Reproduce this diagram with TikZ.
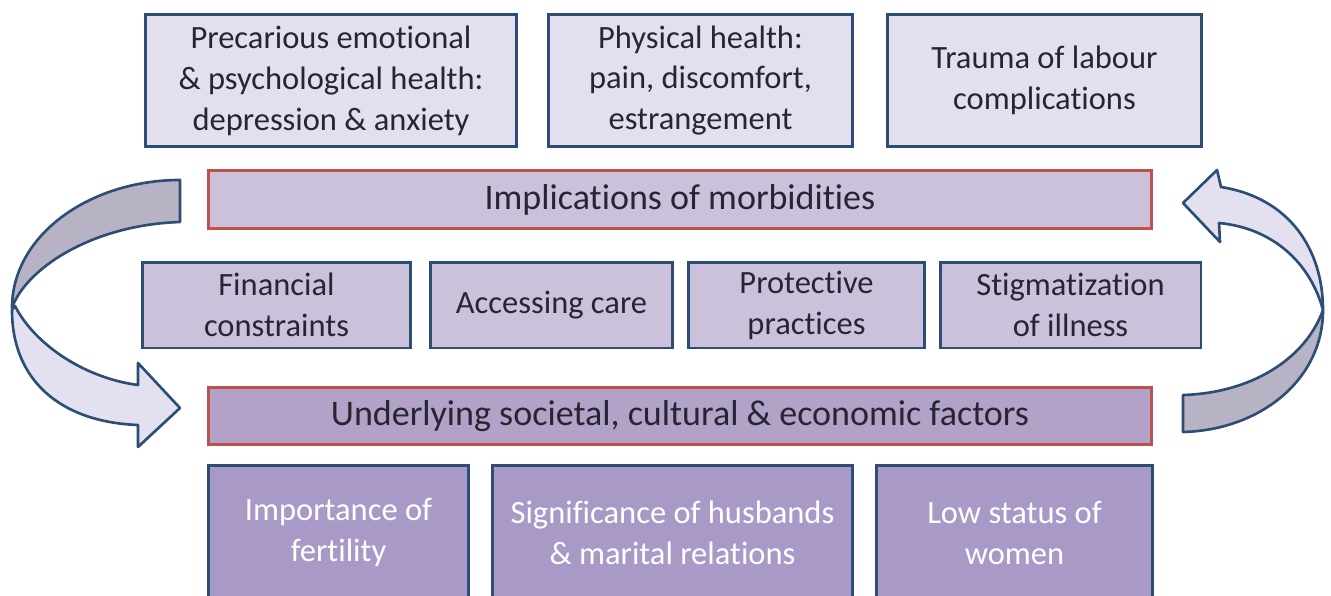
\documentclass[tikz,border=0pt]{standalone}
\usepackage{fontspec}
\setmainfont{Carlito}[Ligatures=NoCommon]
\definecolor{boxblue}{HTML}{2C4D75}
\definecolor{barred}{HTML}{C0504D}
\definecolor{lilac1}{HTML}{E4DFEE}
\definecolor{lilac2}{HTML}{CCC1DA}
\definecolor{lilac3}{HTML}{B3A2C7}
\definecolor{lilac4}{HTML}{A999C7}
\definecolor{ribbon}{HTML}{E3E0EF}
\definecolor{ribbonback}{HTML}{B8B3C4}
\definecolor{txt}{HTML}{262633}

\begin{document}
\begin{tikzpicture}[x=0.02cm,y=-0.02cm]
\path[use as bounding box] (0,0) rectangle (1331,595);
\clip (0,0) rectangle (1331,595);

\tikzstyle{every node}+=[inner sep=0pt,align=center,text=txt,font=\fontsize{18.5}{23.3}\selectfont]
\tikzstyle{box}=[draw=boxblue,line width=1.7pt,rectangle]
\tikzstyle{topbox}=[box,fill=lilac1,minimum height=2.66cm]
\tikzstyle{midbox}=[box,fill=lilac2,minimum height=1.72cm]
\tikzstyle{lowbox}=[box,fill=lilac4,minimum height=2.7cm,text=white]
\tikzstyle{barbox}=[draw=barred,line width=1.7pt,minimum width=18.88cm,minimum height=1.15cm,font=\fontsize{20.5}{24}\selectfont]
\tikzstyle{ribbonline}=[draw=boxblue,line width=1.5pt,line join=round]

% morbidities
\node[topbox,minimum width=7.44cm] (emo) at (331,80.5) {Precarious emotional\\ \& psychological health:\\ depression \& anxiety};
\node[topbox,minimum width=6.1cm] (phys) at (700.5,80.5) {Physical health:\\ pain, discomfort,\\ estrangement};
\node[topbox,minimum width=6.3cm] (trauma) at (1044.5,80.5) {Trauma of labour\\ complications};
\node[barbox,fill=lilac2] (impl) at (680,199.5) {Implications of morbidities};

% middle row
\node[midbox,minimum width=5.38cm] (fin) at (276.5,305) {Financial\\ constraints};
\node[midbox,minimum width=4.86cm] (acc) at (551.5,305) {Accessing care};
\node[midbox,minimum width=4.74cm] (prot) at (806.5,305) {Protective\\ practices};
\node[midbox,minimum width=5.22cm] (stig) at (1070.5,305) {Stigmatization\\ of illness};

% factors
\node[barbox,fill=lilac3] (under) at (680,416) {Underlying societal, cultural \& economic factors};
\node[lowbox,minimum width=5.22cm] (fert) at (338.5,532.5) {Importance of\\ fertility};
\node[lowbox,minimum width=7.22cm] (sig) at (672.5,532.5) {Significance of husbands\\ \& marital relations};
\node[lowbox,minimum width=5.54cm] (low) at (1014.5,532.5) {Low status of\\ women};

% left ribbon arrow
\path[ribbonline,fill=ribbon] (15,306) .. controls (35,345) and (85,378) .. (138,385)
   -- (138,363) -- (180,408) -- (138,447) -- (138,425)
   .. controls (60,422) and (12,380) .. (12,310) -- cycle;
\path[ribbonline,fill=ribbonback] (180,180) .. controls (90,180) and (12,235) .. (12,308)
   .. controls (25,270) and (90,225) .. (180,222) -- cycle;

% right ribbon arrow
\path[ribbonline,fill=ribbon] (1183,203) -- (1217,170) -- (1221,187)
   .. controls (1290,198) and (1323,250) .. (1323,310)
   .. controls (1310,262) and (1272,228) .. (1219,223) -- (1220,242) -- cycle;
\path[ribbonline,fill=ribbonback] (1323,310) .. controls (1323,380) and (1260,430) .. (1183,432)
   -- (1183,395) .. controls (1250,393) and (1305,360) .. (1323,310) -- cycle;
\end{tikzpicture}
\end{document}
